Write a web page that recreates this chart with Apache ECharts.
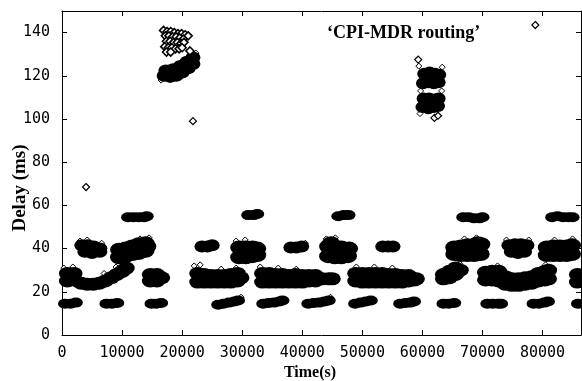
<!DOCTYPE html>
<html>
<head>
<meta charset="utf-8">
<script src="https://cdn.jsdelivr.net/npm/echarts@6/dist/echarts.min.js"></script>
<style>
  html, body { margin: 0; padding: 0; background: #fff; }
  #chart { width: 582px; height: 381px; }
</style>
</head>
<body>
<div id="chart"></div>
<script>
// [time (s), delay (ms)], grouped by delay band
const band15 = [
  [500, 14.5], [1400, 14.5], [2300, 15],
  [7400, 14.5], [8300, 14.5], [9200, 14.8],
  [14900, 14.5], [15700, 14.5], [16500, 14.8],
  [26000, 14], [26900, 14.5], [27800, 15], [28700, 15.5], [29300, 16],
  [33500, 14.5], [34400, 14.8], [35300, 15], [36200, 15.5], [36700, 16],
  [41000, 14.5], [41900, 14.8], [42800, 15], [43700, 15.5], [44400, 16],
  [48800, 14.5], [49700, 15], [50600, 15.5], [51400, 16],
  [56300, 14.5], [57200, 14.8], [58000, 15], [58600, 15.5],
  [63500, 14.5], [64400, 14.5], [65300, 14.8],
  [70800, 14.5], [71700, 14.5], [72600, 14.5], [73100, 14.5],
  [78500, 14.5], [79400, 14.5], [80300, 15], [80900, 15.5],
  [85900, 14.5]
];
const band27 = [
  [900, 25], [900, 28.5], [2000, 25.5], [2000, 28.5],
  [3200, 24], [4200, 23.5], [5200, 23.5], [6200, 24], [7200, 25], [8200, 26.5],
  [9100, 28], [10000, 29.5], [10700, 31],
  [14700, 25], [14700, 28], [15800, 25], [15800, 28], [16600, 26.5],
  [22600, 24.5], [22600, 28.5], [23700, 24.5], [23700, 28], [24800, 24.5], [24800, 27.5],
  [25900, 24.5], [25900, 27.5], [27000, 24.5], [27000, 27.5], [28100, 24.5], [28100, 28],
  [29200, 25], [29200, 28.5], [29800, 26.5],
  [33400, 24.5], [33400, 28.5], [34500, 24.5], [34500, 28.5], [35600, 24.5], [35600, 28],
  [36700, 24.5], [36700, 28], [37800, 24.5], [37800, 27.5], [38900, 24.5], [38900, 28],
  [40000, 24.5], [40000, 27.5], [41100, 25], [41100, 27.5], [42200, 25], [42200, 27.5],
  [43300, 26], [44400, 26], [45000, 26],
  [48900, 25], [48900, 28.5], [50000, 24.5], [50000, 28.5], [51100, 24.5], [51100, 28.5],
  [52200, 24.5], [52200, 28.5], [53300, 24.5], [53300, 28.5], [54400, 24.5], [54400, 28],
  [55500, 24.5], [55500, 28], [56600, 24.5], [56600, 27.5], [57700, 25], [57700, 27.5],
  [58700, 25.5], [59000, 26],
  [63500, 26], [63500, 28], [64500, 26.5], [64500, 29.5], [65500, 28], [65500, 31], [66300, 30],
  [70500, 25.5], [71600, 25.5], [72700, 25], [73800, 23.5], [74900, 23], [76000, 23],
  [77100, 23.5], [78200, 24], [79300, 25], [80400, 25.5], [81000, 26],
  [70500, 29], [71600, 29.5], [72700, 29.5], [73800, 27], [74900, 26], [76000, 26],
  [77100, 26.5], [78200, 27], [79300, 28.5], [80400, 29.5], [81000, 30],
  [85800, 24.5], [85800, 28]
];
const band40 = [
  [3300, 41.5], [4300, 41.5], [5300, 41], [6300, 40], [3800, 38.5], [5000, 38], [6300, 38.5],
  [23300, 41], [24200, 41], [25000, 41.5],
  [38100, 40.5], [39000, 40.5], [39900, 41],
  [53400, 41], [54300, 41], [55100, 41],
  [74400, 41.5], [75400, 42], [76400, 42], [77400, 41.5], [74800, 38.5], [75900, 38], [77000, 38.5]
];
const blobs38 = [
  [9500, 36], [9500, 39.5], [10600, 36.5], [10600, 40], [11700, 37.5], [11700, 41],
  [12800, 38], [12800, 42], [13900, 39], [13900, 42.5], [14200, 41],
  [29500, 36], [29500, 40.5], [30600, 36], [30600, 40.5], [31700, 36.5], [31700, 40.5],
  [32500, 37], [32500, 40],
  [44300, 36.5], [44300, 41], [45400, 36], [45400, 40.5], [46500, 36], [46500, 40.5],
  [47600, 36.5], [47800, 40], [44800, 42.5],
  [65300, 37.5], [65300, 40.5], [66400, 37], [66400, 41], [67500, 37], [67500, 41.5],
  [68600, 37], [68600, 41.5], [69700, 37.5], [69800, 42], [69200, 42.5],
  [80700, 37], [80700, 40.5], [81800, 37], [81800, 41], [82900, 37], [82900, 41],
  [84000, 37], [84000, 41], [84900, 37.5], [84900, 41.5]
];
const band55 = [
  [11000, 54.5], [11900, 54.5], [12800, 54.5], [13700, 54.5], [14100, 55],
  [31000, 55.5], [31900, 55.5], [32500, 56],
  [46000, 55], [46900, 55.5], [47700, 55.5],
  [66800, 54.5], [67700, 54.5], [68600, 54], [69500, 54], [70000, 54.5],
  [81600, 54.5], [82500, 55], [83400, 54.5], [84300, 54.5], [85000, 54.5]
];
const high115 = [
  [60100, 116.5], [61000, 117], [61900, 116.5], [62700, 117],
  [60300, 121], [61200, 121.5], [62100, 121], [62800, 120.5],
  [60000, 105.5], [61000, 105], [61900, 105.5], [62600, 106],
  [60200, 109.5], [61100, 109.5], [62000, 109], [62700, 109.5]
];
const high120 = [
  [17000, 120], [18000, 119.5], [19000, 120], [20000, 121.5], [21000, 123.5], [21800, 125.5],
  [17300, 122.5], [18500, 123], [19700, 124.5], [20800, 126.5], [21800, 128.5]
];
const high138 = [
  [16900, 141], [17500, 140.5], [18100, 140.5], [18700, 140], [19300, 139.5], [19900, 139.5],
  [20500, 139], [21000, 138.5],
  [17200, 138.5], [17800, 138.5], [18400, 138], [19000, 138], [19600, 137.5], [20200, 137],
  [17400, 136], [18000, 136], [18600, 135.5], [19200, 135.5], [19800, 135], [20300, 135.5],
  [17100, 133.5], [17700, 133], [18300, 133], [18900, 132.5], [19500, 132.5], [20000, 133],
  [17400, 131], [18100, 131],
  [21300, 131.5]
];
// loose points sitting on the edges of the dense clusters
const fringe = [
  [3000, 43.5], [4200, 44], [6600, 42.5], [13000, 44.5], [14500, 45],
  [7000, 28.5], [9000, 31.5], [10500, 33.5], [300, 31], [1800, 31.5],
  [22000, 32], [23000, 32.5], [26500, 30.5], [29000, 31],
  [29000, 43.5], [30500, 44], [29800, 17.5],
  [33000, 31.5], [36000, 31], [39000, 30.5], [40500, 42.5],
  [44000, 44.5], [45500, 45], [44700, 17.5],
  [49000, 31.5], [52000, 31.5], [55000, 31],
  [67000, 44.5], [69000, 45], [66200, 33],
  [74000, 44], [77700, 44], [72500, 32], [80500, 32.5],
  [82000, 44], [85000, 44.5],
  [59400, 124.5], [63300, 124], [59700, 113], [63200, 113], [59600, 102.5],
  [22300, 130.5], [16500, 118]
];
const strays = [
  [4000, 68.5], [21800, 99], [78800, 143.5], [59300, 127.5], [62000, 100.5], [62600, 101.5]
];

const xTicks = [0, 10000, 20000, 30000, 40000, 50000, 60000, 70000, 80000];
const yTicks = [0, 20, 40, 60, 80, 100, 120, 140];

const chart = echarts.init(document.getElementById('chart'));

const tickFont = { fontFamily: 'DejaVu Sans Mono', fontSize: 15, color: '#000' };
const axisBase = {
  type: 'value',
  splitLine: { show: false },
  axisLine: { show: true, onZero: false, lineStyle: { color: '#000', width: 1 } },
  axisTick: { show: true, inside: true, length: 5, lineStyle: { color: '#000' } }
};

// wide ellipses so neighbouring points merge into smooth bands
function dots(data, size) {
  return {
    type: 'scatter',
    data: data,
    symbol: 'circle',
    symbolSize: size,
    silent: true,
    itemStyle: { color: '#000', opacity: 1 }
  };
}

function rings(data, size, bw) {
  return {
    type: 'scatter',
    data: data,
    symbol: 'diamond',
    symbolSize: size,
    silent: true,
    itemStyle: { color: '#fff', borderColor: '#000', borderWidth: bw || 1.2, opacity: 1 }
  };
}

const option = {
  animation: false,
  backgroundColor: '#fff',
  grid: { left: 62, right: 1, top: 11, bottom: 46, containLabel: false },
  xAxis: [
    Object.assign({}, axisBase, {
      position: 'bottom', min: 0, max: 86400, interval: 10000,
      axisLabel: Object.assign({ margin: 11, showMaxLabel: false,
        formatter: v => xTicks.includes(v) ? String(v) : '' }, tickFont)
    }),
    Object.assign({}, axisBase, {
      position: 'top', min: 0, max: 86400, interval: 10000,
      axisLabel: { show: false }
    })
  ],
  yAxis: [
    Object.assign({}, axisBase, {
      position: 'left', min: 0, max: 150, interval: 20,
      axisLabel: Object.assign({ margin: 12, showMaxLabel: false,
        formatter: v => yTicks.includes(v) ? String(v) : '' }, tickFont)
    }),
    Object.assign({}, axisBase, {
      position: 'right', min: 0, max: 150, interval: 20,
      axisLabel: { show: false }
    })
  ],
  series: [
    rings(fringe, 6, 1),
    dots(band15, [14, 10]),
    dots(band27, [17, 13]),
    dots(band40, [15, 12]),
    dots(blobs38, [18, 14]),
    dots(band55, [14, 10]),
    dots(high120, [15, 12]),
    dots(high115, [14, 12]),
    rings(high138, 8, 1.6),
    rings(strays, 7)
  ],
  graphic: [
    {
      type: 'text', left: 327, top: 24,
      style: { text: '\u2018CPI-MDR routing\u2019', fill: '#000',
        font: 'bold 18px "Liberation Serif", "DejaVu Serif", serif' }
    },
    {
      type: 'text', x: 310, y: 373,
      style: { text: 'Time(s)', fill: '#000', align: 'center', verticalAlign: 'middle',
        font: 'bold 16px "Liberation Serif", "DejaVu Serif", serif' }
    },
    {
      type: 'text', x: 20, y: 188, rotation: Math.PI / 2,
      style: { text: 'Delay (ms)', fill: '#000', align: 'center', verticalAlign: 'middle',
        font: 'bold 19px "Liberation Serif", "DejaVu Serif", serif' }
    }
  ]
};

chart.setOption(option);
</script>
</body>
</html>
